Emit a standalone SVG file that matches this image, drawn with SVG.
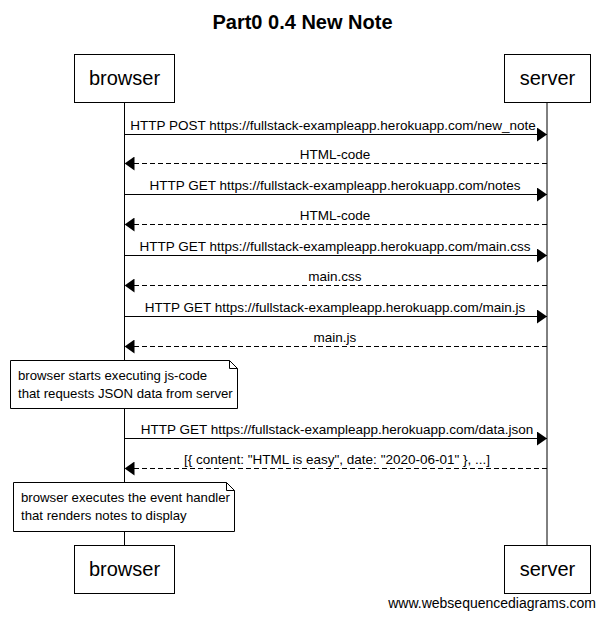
<svg xmlns="http://www.w3.org/2000/svg" width="605" height="617" viewBox="0 0 605 617">
<defs>
<marker id="ah" markerWidth="10" markerHeight="14" refX="10" refY="7" orient="auto" markerUnits="userSpaceOnUse">
<path d="M0,0 L10,7 L0,14 Z" fill="#000"/>
</marker>
<style>
text{font-family:"Liberation Sans",Arial,sans-serif;fill:#000}
.box{fill:#fff;stroke:#000;stroke-width:1}
.pl{font-size:20px;text-anchor:middle}
.msg{font-size:13.5px;text-anchor:middle}
.nt{font-size:13.2px}
.life{stroke:#000;stroke-width:1}
.sync{stroke:#000;stroke-width:1;fill:none;marker-end:url(#ah)}
.ret{stroke:#000;stroke-width:1;fill:none;stroke-dasharray:5,3;marker-end:url(#ah)}
</style>
</defs>
<rect width="605" height="617" fill="#fff"/>
<text x="302.5" y="29" font-size="20" font-weight="bold" text-anchor="middle">Part0 0.4 New Note</text>
<g id="lifelines">
<line class="life" x1="124.5" y1="103" x2="124.5" y2="545"/>
<line class="life" x1="547" y1="103" x2="547" y2="545"/>
</g>
<g id="browser-top"><rect class="box" x="74.5" y="54.5" width="100" height="48"/><text class="pl" x="124.5" y="85">browser</text></g>
<g id="server-top"><rect class="box" x="504.5" y="54.5" width="86" height="48"/><text class="pl" x="547.5" y="85">server</text></g>
<g id="browser-bottom"><rect class="box" x="74.5" y="545.5" width="100" height="48"/><text class="pl" x="124.5" y="576">browser</text></g>
<g id="server-bottom"><rect class="box" x="504.5" y="545.5" width="86" height="48"/><text class="pl" x="547.5" y="576">server</text></g>
<g id="connectors">
<line class="sync" x1="124.5" y1="134.5" x2="547" y2="134.5"/>
<text class="msg" x="333" y="130">HTTP POST https://fullstack-exampleapp.herokuapp.com/new_note</text>
<line class="ret" x1="547" y1="163.5" x2="124.5" y2="163.5"/>
<text class="msg" x="335" y="159">HTML-code</text>
<line class="sync" x1="124.5" y1="194.5" x2="547" y2="194.5"/>
<text class="msg" x="335" y="190">HTTP GET https://fullstack-exampleapp.herokuapp.com/notes</text>
<line class="ret" x1="547" y1="224.5" x2="124.5" y2="224.5"/>
<text class="msg" x="335" y="220">HTML-code</text>
<line class="sync" x1="124.5" y1="255.5" x2="547" y2="255.5"/>
<text class="msg" x="335" y="251">HTTP GET https://fullstack-exampleapp.herokuapp.com/main.css</text>
<line class="ret" x1="547" y1="285.5" x2="124.5" y2="285.5"/>
<text class="msg" x="335" y="281">main.css</text>
<line class="sync" x1="124.5" y1="316.5" x2="547" y2="316.5"/>
<text class="msg" x="335" y="312">HTTP GET https://fullstack-exampleapp.herokuapp.com/main.js</text>
<line class="ret" x1="547" y1="346.5" x2="124.5" y2="346.5"/>
<text class="msg" x="335" y="342">main.js</text>
<line class="sync" x1="124.5" y1="438.5" x2="547" y2="438.5"/>
<text class="msg" x="337" y="434">HTTP GET https://fullstack-exampleapp.herokuapp.com/data.json</text>
<line class="ret" x1="547" y1="468.5" x2="124.5" y2="468.5"/>
<text class="msg" x="337" y="464">[{ content: "HTML is easy", date: "2020-06-01" }, ...]</text>
</g>
<g id="note1">
<path class="box" d="M10.5,360.5 H229.5 L237.5,368.5 V408.5 H10.5 Z"/>
<path d="M229.5,360.5 V368.5 H237.5" fill="none" stroke="#000"/>
<text class="nt" x="18" y="380">browser starts executing js-code</text>
<text class="nt" x="18" y="398">that requests JSON data from server</text>
</g>
<g id="note2">
<path class="box" d="M13.5,482.5 H226.5 L234.5,490.5 V531.5 H13.5 Z"/>
<path d="M226.5,482.5 V490.5 H234.5" fill="none" stroke="#000"/>
<text class="nt" x="21" y="502">browser executes the event handler</text>
<text class="nt" x="21" y="520">that renders notes to display</text>
</g>
<text x="596" y="608" font-size="14" text-anchor="end">www.websequencediagrams.com</text>
</svg>
